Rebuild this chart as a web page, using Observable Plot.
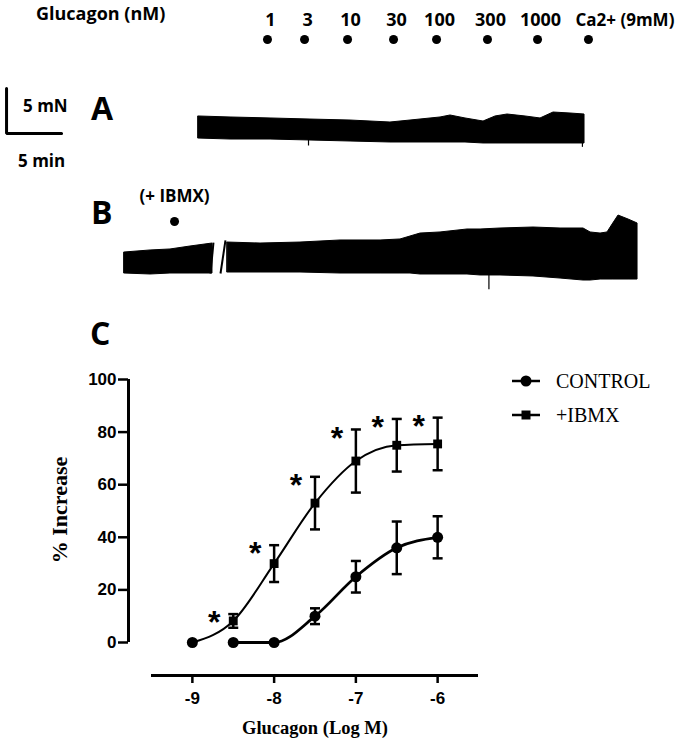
<!DOCTYPE html>
<html>
<head>
<meta charset="utf-8">
<script src="https://cdn.jsdelivr.net/npm/d3@7"></script>
<script src="https://cdn.jsdelivr.net/npm/@observablehq/plot@0.6"></script>
<style>
  html,body{margin:0;padding:0;background:#fff;}
  #fig{position:relative;width:685px;height:741px;overflow:hidden;background:#fff;color:#000;}
  #fig svg{overflow:visible;background:transparent;}
  .t{position:absolute;white-space:nowrap;line-height:1;color:#000;}
</style>
</head>
<body>
<div id="fig"></div>
<script>
// ---------------- DATA ----------------
// Recording time axis (minutes), shared by the header and traces A / B
const timeDomain = [-18, 44.27];

// Glucagon additions (nM) and their times on the recording
const doseLabels = ["1", "3", "10", "30", "100", "300", "1000"];
const doseTimes = [6.27, 9.64, 13.55, 17.73, 21.64, 26.27, 30.82];
const calciumLabel = "Ca2+ (9mM)";
const calciumTime = 35.45;

// Trace A (control) – envelope of the force recording (mN)
const traceATime = [0, 2.91, 6.55, 10.18, 13.82, 17.45, 19.27, 22.0, 22.91, 24.27, 25.91, 27.0, 28.09, 29.73, 31.09, 32.27, 33.82, 35.09];
const traceAHigh = [3.78, 3.67, 3.56, 3.44, 3.33, 3.11, 3.33, 3.67, 3.89, 3.56, 3.22, 3.78, 4.0, 3.78, 3.56, 4.22, 4.11, 4.0];
const traceALow  = [1.33, 1.22, 1.22, 1.11, 1.0, 0.89, 0.89, 0.89, 0.89, 0.89, 0.78, 0.78, 0.78, 0.78, 0.78, 0.78, 0.78, 0.78];
// downward artefact spikes on trace A: time, lowest level
const spikesATime = [10.0, 34.9];
const spikesALow = [0.5, 0.35];

// Trace B (+IBMX) – before and after the break
const traceB1Time = [-6.73, -4.36, -2.55, -0.73, 1.27];
const traceB1High = [5.33, 5.56, 5.67, 6.0, 6.33];
const traceB1Low  = [3.0, 2.89, 3.0, 3.0, 3.0];
const traceB2Time = [2.64, 5.64, 9.27, 12.91, 16.55, 18.36, 19.27, 20.18, 22.0, 24.45, 25.64, 27.45, 30.45, 32.91, 35.0, 35.64, 36.55, 37.18, 37.64, 38.18, 39.09, 39.91];
const traceB2High = [6.44, 6.33, 6.44, 6.67, 6.67, 6.78, 7.11, 7.44, 7.56, 7.89, 7.89, 8.0, 8.11, 8.0, 8.0, 7.56, 7.44, 7.56, 8.44, 9.44, 9.0, 8.56];
const traceB2Low  = [3.11, 3.11, 3.11, 3.0, 3.0, 3.0, 3.0, 2.89, 2.89, 2.89, 2.78, 2.78, 2.67, 2.44, 2.22, 2.22, 2.33, 2.33, 2.33, 2.33, 2.33, 2.33];
const spikesBTime = [26.4];
const spikesBLow = [1.2];
const ibmxAddTime = -2.18;
const ibmxAddLevel = 8.78;
const breakTop = [[1.36, 6.44], [2.45, 6.67]];
const breakBottom = [[1.09, 3.0], [2.0, 3.0]];

// Scale bar: 5 min x 5 mN
const scaleBarOrigin = [-17.45, 1.89];
const scaleBarMinutes = 5;
const scaleBarMN = 5;

// Panel C – concentration–response
const logDose = [-9, -8.5, -8, -7.5, -7, -6.5, -6];
const controlMean = [0, 0, 0, 10, 25, 36, 40];
const controlSem  = [0, 0, 0, 3, 6, 10, 8];
const ibmxMean = [0, 8.2, 30, 53, 69, 75, 75.5];
const ibmxSem  = [0, 2.6, 7, 10, 12, 10, 10];
const ibmxSignificant = [false, true, true, true, true, true, true];
const controlFitFrom = -8.5;
const yTicks = [0, 20, 40, 60, 80, 100];
const xTicks = [-9, -8, -7, -6];

// ---------------- LAYOUT HELPERS ----------------
const fig = document.getElementById("fig");
const SANS = "'Open Sans', sans-serif";
const ARIAL = "'Liberation Sans', Arial, sans-serif";
const TIMES = "'Liberation Serif', 'Times New Roman', serif";

function place(node, top) {
  node.style.position = "absolute";
  node.style.left = "0px";
  node.style.top = top + "px";
  fig.appendChild(node);
}
function label(text, x, y, opts) {
  const d = document.createElement("div");
  d.className = "t";
  d.textContent = text;
  d.style.left = x + "px";
  d.style.top = y + "px";
  d.style.fontFamily = opts.family || SANS;
  d.style.fontSize = opts.size + "px";
  d.style.fontWeight = opts.weight || 400;
  const tx = opts.anchor === "middle" ? "-50%" : opts.anchor === "end" ? "-100%" : "0";
  d.style.transform = `translate(${tx},-50%)` + (opts.rotate ? ` rotate(${opts.rotate}deg)` : "");
  fig.appendChild(d);
  return d;
}

// ---------------- HEADER ----------------
const doseRows = doseLabels.map((l, i) => ({label: l, t: doseTimes[i]}));
const header = Plot.plot({
  width: 685, height: 60, margin: 0,
  x: {domain: timeDomain, axis: null},
  marks: [
    Plot.text(doseRows, {x: "t", text: "label", frameAnchor: "top", dy: 13, dx: 3,
      fontFamily: SANS, fontWeight: 700, fontSize: 18, fill: "black"}),
    Plot.text([calciumLabel], {x: () => calciumTime, text: d => d, frameAnchor: "top", dy: 13, dx: -13,
      textAnchor: "start", fontFamily: SANS, fontWeight: 700, fontSize: 17, fill: "black"}),
    Plot.dot([...doseTimes, calciumTime], {x: d => d, frameAnchor: "top", dy: 39, r: 4.5, fill: "black", stroke: "none"})
  ]
});
place(header, 0);
label("Glucagon (nM)", 36, 13, {size: 18, weight: 700});

// ---------------- TRACE A ----------------
const rowsA = traceATime.map((t, i) => ({t, hi: traceAHigh[i], lo: traceALow[i]}));
const o = scaleBarOrigin;
const plotA = Plot.plot({
  width: 685, height: 70, margin: 0,
  x: {domain: timeDomain, axis: null},
  y: {domain: [0, 70 / 9], axis: null},
  marks: [
    Plot.areaY(rowsA, {x: "t", y1: "lo", y2: "hi", fill: "black", stroke: "black", strokeWidth: 1}),
    Plot.ruleX(spikesATime, {x: d => d, y1: (d, i) => spikesALow[i], y2: 1.2, stroke: "black", strokeWidth: 1.2}),
    Plot.line([[o[0], o[1] + scaleBarMN], [o[0], o[1]], [o[0] + scaleBarMinutes, o[1]]],
      {stroke: "black", strokeWidth: 3, strokeLinejoin: "miter"})
  ]
});
place(plotA, 80);
label("5 mN", 23, 105, {size: 17, weight: 700});
label("5 min", 18, 160, {size: 17, weight: 700});
label("A", 91, 108, {size: 32, weight: 700});

// ---------------- TRACE B ----------------
const rowsB = [
  ...traceB1Time.map((t, i) => ({seg: 1, t, hi: traceB1High[i], lo: traceB1Low[i]})),
  ...traceB2Time.map((t, i) => ({seg: 2, t, hi: traceB2High[i], lo: traceB2Low[i]}))
];
const breaks = breakTop.map((p, i) => ({x1: p[0], y1: p[1], x2: breakBottom[i][0], y2: breakBottom[i][1]}));
const plotB = Plot.plot({
  width: 685, height: 120, margin: 0,
  x: {domain: timeDomain, axis: null},
  y: {domain: [0, 120 / 9], axis: null},
  marks: [
    Plot.areaY(rowsB, {x: "t", y1: "lo", y2: "hi", z: "seg", fill: "black", stroke: "black", strokeWidth: 1}),
    Plot.ruleX(spikesBTime, {x: d => d, y1: (d, i) => spikesBLow[i], y2: 3, stroke: "black", strokeWidth: 1.2}),
    Plot.link(breaks, {x1: "x1", y1: "y1", x2: "x2", y2: "y2", stroke: "black", strokeWidth: 2}),
    Plot.dot([ibmxAddTime], {x: d => d, y: () => ibmxAddLevel, r: 4.5, fill: "black", stroke: "none"}),
    Plot.text(["(+ IBMX)"], {x: () => ibmxAddTime, y: () => ibmxAddLevel, text: d => d, dy: -25,
      fontFamily: SANS, fontWeight: 700, fontSize: 17, fill: "black"})
  ]
});
place(plotB, 180);
label("B", 91, 212, {size: 32, weight: 700});

// ---------------- PANEL C ----------------
const rows = logDose.map((x, i) => ({
  x, cm: controlMean[i], cs: controlSem[i], im: ibmxMean[i], is: ibmxSem[i], sig: ibmxSignificant[i]
}));
const capSymbol = {draw(ctx) { ctx.moveTo(-5, 0); ctx.lineTo(5, 0); }};
const ctrlErr = rows.filter(d => d.cs > 0);
const ibmxErr = rows.filter(d => d.is > 0);

const plotC = Plot.plot({
  width: 685, height: 381,
  marginTop: 19, marginBottom: 99, marginLeft: 151, marginRight: 207,
  x: {domain: [-9.5, -5.5]},
  y: {domain: [0, 100]},
  style: {fontFamily: ARIAL, fontSize: "17px", fontWeight: "bold", color: "black", background: "transparent"},
  marks: [
    // axes
    Plot.ruleX([-9.5], {y1: 0, y2: 100, dx: -23, strokeWidth: 3, stroke: "black"}),
    Plot.axisY({ticks: yTicks, tickSize: 10, tickPadding: 2, dx: -23, label: null,
      strokeWidth: 2.5, fontSize: 17, fontWeight: "bold", fontFamily: ARIAL}),
    Plot.ruleY([0], {x1: -9.5, x2: -5.5, dy: 33, strokeWidth: 3, stroke: "black"}),
    Plot.axisX({ticks: xTicks, tickSize: 8, tickPadding: 8, dy: 33, label: null,
      tickFormat: d => String(d), strokeWidth: 2.5, fontSize: 17, fontWeight: "bold", fontFamily: ARIAL}),
    // fitted curves
    Plot.line(rows, {x: "x", y: "im", curve: "monotone-x", stroke: "black", strokeWidth: 2}),
    Plot.line(rows.filter(d => d.x >= controlFitFrom), {x: "x", y: "cm", curve: "monotone-x", stroke: "black", strokeWidth: 2.8}),
    // error bars
    Plot.ruleX(ibmxErr, {x: "x", y1: d => d.im - d.is, y2: d => d.im + d.is, stroke: "black", strokeWidth: 2.5}),
    Plot.dot(ibmxErr, {x: "x", y: d => d.im + d.is, symbol: capSymbol, fill: "none", stroke: "black", strokeWidth: 2.5}),
    Plot.dot(ibmxErr, {x: "x", y: d => d.im - d.is, symbol: capSymbol, fill: "none", stroke: "black", strokeWidth: 2.5}),
    Plot.ruleX(ctrlErr, {x: "x", y1: d => d.cm - d.cs, y2: d => d.cm + d.cs, stroke: "black", strokeWidth: 2.5}),
    Plot.dot(ctrlErr, {x: "x", y: d => d.cm + d.cs, symbol: capSymbol, fill: "none", stroke: "black", strokeWidth: 2.5}),
    Plot.dot(ctrlErr, {x: "x", y: d => d.cm - d.cs, symbol: capSymbol, fill: "none", stroke: "black", strokeWidth: 2.5}),
    // markers
    Plot.dot(rows.filter(d => d.x > logDose[0]), {x: "x", y: "im", symbol: "square", r: 5, fill: "black", stroke: "none"}),
    Plot.dot(rows, {x: "x", y: "cm", symbol: "circle", r: 5.5, fill: "black", stroke: "none"}),
    // significance
    Plot.text(rows.filter(d => d.sig), {x: "x", y: d => d.im + d.is, text: () => "*", dx: -19, dy: 9,
      fontFamily: ARIAL, fontWeight: "bold", fontSize: 32, fill: "black"})
  ]
});
place(plotC, 360);
label("C", 90, 333, {size: 32, weight: 700});
label("% Increase", 60, 510, {family: TIMES, size: 22, weight: 700, anchor: "middle", rotate: -90});
label("Glucagon (Log M)", 315, 728, {family: TIMES, size: 18.5, weight: 700, anchor: "middle"});

// Legend
const legendItems = [
  {name: "CONTROL", symbol: d3.symbolCircle, size: Math.PI * 5.5 * 5.5, y: 381},
  {name: "+IBMX", symbol: d3.symbolSquare, size: 81, y: 415}
];
legendItems.forEach(item => {
  const svg = d3.create("svg").attr("width", 30).attr("height", 14)
    .style("position", "absolute").style("left", "511px").style("top", (item.y - 7) + "px");
  svg.append("line").attr("x1", 1).attr("x2", 29).attr("y1", 7).attr("y2", 7)
    .attr("stroke", "black").attr("stroke-width", 2.5);
  svg.append("path").attr("transform", "translate(15,7)")
    .attr("d", d3.symbol(item.symbol, item.size)()).attr("fill", "black");
  fig.appendChild(svg.node());
  label(item.name, 556, item.y, {family: TIMES, size: 20, weight: 400});
});
</script>
</body>
</html>
